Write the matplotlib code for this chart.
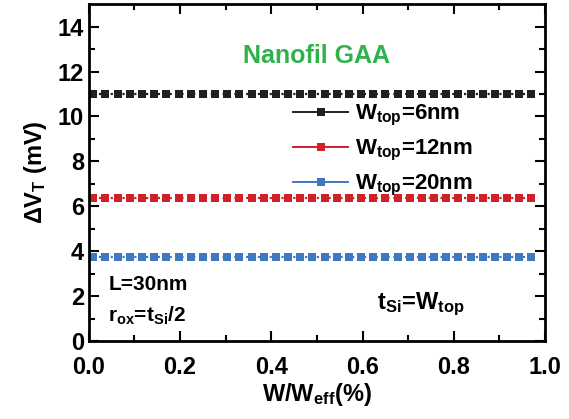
import numpy as np
import matplotlib
matplotlib.use('Agg')
import matplotlib.pyplot as plt
from matplotlib.lines import Line2D

plt.rcParams['font.family'] = ['Liberation Sans', 'DejaVu Sans']
plt.rcParams['font.weight'] = 'bold'
plt.rcParams['axes.labelweight'] = 'bold'
plt.rcParams['mathtext.fontset'] = 'custom'
plt.rcParams['mathtext.rm'] = 'Liberation Sans:bold'
plt.rcParams['mathtext.it'] = 'Liberation Sans:bold'
plt.rcParams['mathtext.bf'] = 'Liberation Sans:bold'
plt.rcParams['mathtext.default'] = 'rm'

# W/W_eff sample grid
w_ratio = np.linspace(0.01, 0.97, 37)

# Delta V_T per top width (flat curves)
dvt_6nm = [11.0] * len(w_ratio)
dvt_12nm = [6.35] * len(w_ratio)
dvt_20nm = [3.75] * len(w_ratio)

series = [
    ('$W_{top}$=6nm', dvt_6nm, '#231f20'),
    ('$W_{top}$=12nm', dvt_12nm, '#d0202a'),
    ('$W_{top}$=20nm', dvt_20nm, '#3f78c0'),
]

fig = plt.figure(figsize=(5.69, 4.19), dpi=100)
ax = fig.add_axes([0.156, 0.186, 0.802, 0.804])

handles = []
for label, vals, color in series:
    ax.plot(w_ratio, vals, linestyle=':', linewidth=1.6, color=color,
            marker='s', markersize=6, markeredgewidth=0)
    handles.append(Line2D([], [], color=color, linestyle='-', linewidth=1.4,
                          marker='s', markersize=6, markeredgewidth=0,
                          label=label))

ax.set_xlim(0, 1.0)
ax.set_ylim(0, 15)
ax.set_xticks(np.arange(0, 1.01, 0.2))
ax.set_xticks(np.arange(0.1, 1.0, 0.2), minor=True)
ax.set_yticks(np.arange(0, 15, 2))
ax.set_yticks(np.arange(1, 15, 2), minor=True)
ax.xaxis.set_major_formatter(matplotlib.ticker.FormatStrFormatter('%.1f'))

ax.tick_params(which='both', direction='in', top=True, right=True,
               labelsize=17, width=1.5)
ax.tick_params(which='major', length=7)
ax.tick_params(which='minor', length=4)
ax.tick_params(axis='x', pad=11)
for s in ax.spines.values():
    s.set_linewidth(2)

ax.set_xlabel('W/W$_{eff}$(%)', fontsize=17, labelpad=1)
ax.set_ylabel(r'$\Delta$V$_T$ (mV)', fontsize=17, labelpad=6)

ax.text(0.5, 0.845, 'Nanofil GAA', transform=ax.transAxes, color='#2db34a',
        fontsize=18, ha='center', va='center')
ax.text(0.043, 0.168, 'L=30nm', transform=ax.transAxes, fontsize=15,
        ha='left', va='center')
ax.text(0.043, 0.075, 'r$_{ox}$=t$_{Si}$/2', transform=ax.transAxes,
        fontsize=15, ha='left', va='center')
ax.text(0.632, 0.11, 't$_{Si}$=W$_{top}$', transform=ax.transAxes,
        fontsize=17, ha='left', va='center')

ax.legend(handles=handles, loc='upper left', bbox_to_anchor=(0.447, 0.707),
          frameon=False, fontsize=16, handlelength=2.5, handletextpad=0.3,
          labelspacing=0.45, borderpad=0, borderaxespad=0)

fig.savefig('out.png', dpi=100)
